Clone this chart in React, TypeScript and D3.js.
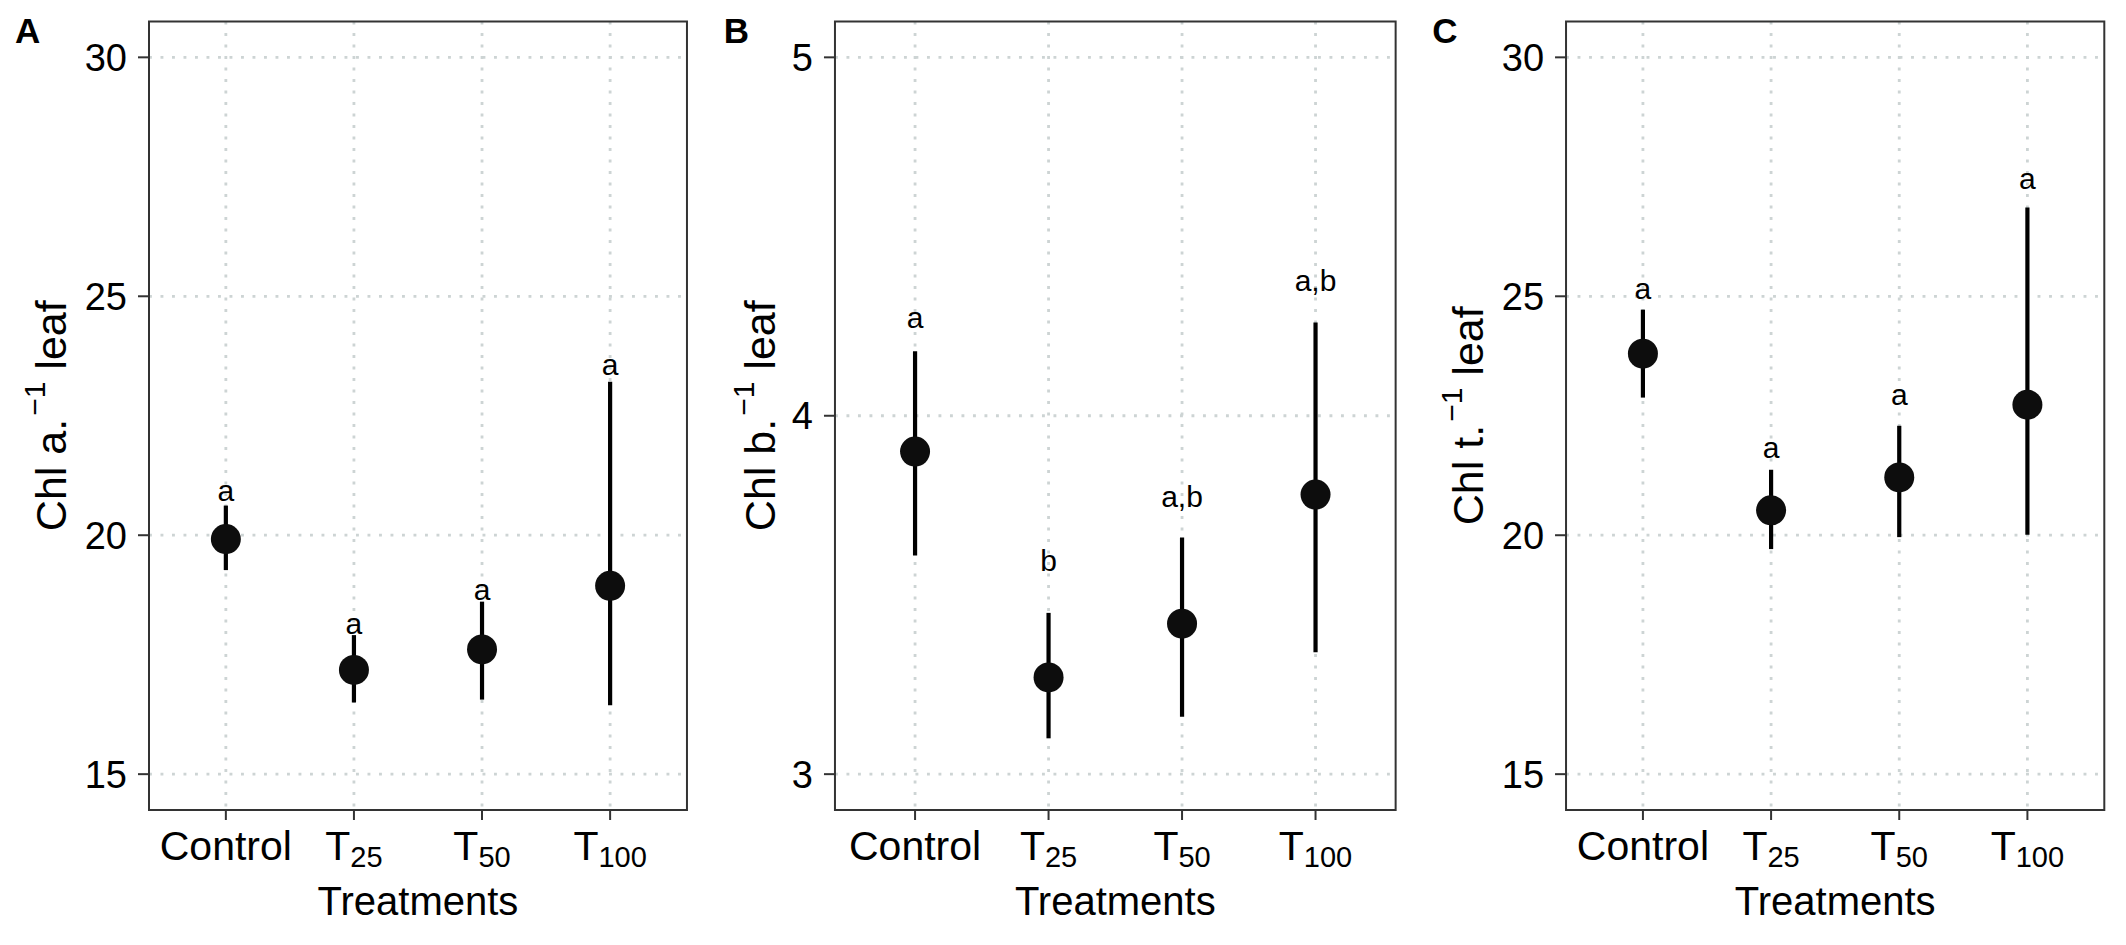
import { scaleLinear, scalePoint } from 'd3'

// treatments on the x axis (base + subscript)
const treatments = ['Control', 'T25', 'T50', 'T100']
const tickBase = ['Control', 'T', 'T', 'T']
const tickSub = ['', '25', '50', '100']

// panel A: Chl a
const chlAMean = [19.92, 17.18, 17.61, 18.94]
const chlALower = [19.27, 16.5, 16.56, 16.44]
const chlAUpper = [20.62, 17.91, 18.61, 23.21]
const chlALetters = ['a', 'a', 'a', 'a']
const chlALetterY = [20.72, 17.93, 18.64, 23.36]

// panel B: Chl b
const chlBMean = [3.9, 3.27, 3.42, 3.78]
const chlBLower = [3.61, 3.1, 3.16, 3.34]
const chlBUpper = [4.18, 3.45, 3.66, 4.26]
const chlBLetters = ['a', 'b', 'a,b', 'a,b']
const chlBLetterY = [4.246, 3.566, 3.745, 4.347]

// panel C: Chl t
const chlTMean = [23.8, 20.52, 21.21, 22.73]
const chlTLower = [22.88, 19.71, 19.96, 20.01]
const chlTUpper = [24.72, 21.37, 22.29, 26.86]
const chlTLetters = ['a', 'a', 'a', 'a']
const chlTLetterY = [24.94, 21.62, 22.73, 27.24]

const ticks15to30 = [15, 20, 25, 30]
const ticks3to5 = [3, 4, 5]

const panels = [
	{ tag: 'A', name: 'Chl a.', mean: chlAMean, lower: chlALower, upper: chlAUpper, letters: chlALetters, letterY: chlALetterY, domain: [14.25, 30.75], ticks: ticks15to30, axisSpace: 149 },
	{ tag: 'B', name: 'Chl b.', mean: chlBMean, lower: chlBLower, upper: chlBUpper, letters: chlBLetters, letterY: chlBLetterY, domain: [2.9, 5.1], ticks: ticks3to5, axisSpace: 126.3 },
	{ tag: 'C', name: 'Chl t.', mean: chlTMean, lower: chlTLower, upper: chlTUpper, letters: chlTLetters, letterY: chlTLetterY, domain: [14.25, 30.75], ticks: ticks15to30, axisSpace: 148.7 },
]

const W = 2126
const H = 945
const FONT = '"Liberation Sans", Arial, Helvetica, sans-serif'
const GRID = '#cdd4d4'
const AXIS = '#333333'

function Panel({ p, index }: { p: (typeof panels)[number]; index: number }) {
	const panelW = W / panels.length
	const x0 = index * panelW
	const left = x0 + p.axisSpace
	const right = x0 + panelW - 21.7
	const top = 21.5
	const bottom = 810

	const x = scalePoint<string>().domain(treatments).range([left, right]).padding(0.6)
	const y = scaleLinear().domain(p.domain).range([bottom, top])
	const midY = (top + bottom) / 2

	return (
		<g>
			<text x={x0 + 15} y={43} fontSize={35} fontWeight="bold" fill="#000">
				{p.tag}
			</text>

			{/* grid */}
			{p.ticks.map((t) => (
				<line key={`h${t}`} x1={left} x2={right} y1={y(t)} y2={y(t)} stroke={GRID} strokeWidth={2.8} strokeDasharray="2.9 8.6" />
			))}
			{treatments.map((t) => (
				<line key={`v${t}`} x1={x(t)} x2={x(t)} y1={top} y2={bottom} stroke={GRID} strokeWidth={2.8} strokeDasharray="2.9 8.6" />
			))}

			{/* error bars + points */}
			{treatments.map((t, i) => (
				<g key={t}>
					<line x1={x(t)} x2={x(t)} y1={y(p.lower[i])} y2={y(p.upper[i])} stroke="#000" strokeWidth={4.2} />
					<circle cx={x(t)} cy={y(p.mean[i])} r={15} fill="#0d0d0d" />
					<text x={x(t)} y={y(p.letterY[i])} textAnchor="middle" fontSize={30} fill="#000">
						{p.letters[i]}
					</text>
				</g>
			))}

			<rect x={left} y={top} width={right - left} height={bottom - top} fill="none" stroke={AXIS} strokeWidth={2} />

			{/* y axis */}
			{p.ticks.map((t) => (
				<g key={`yt${t}`}>
					<line x1={left - 11} x2={left} y1={y(t)} y2={y(t)} stroke={AXIS} strokeWidth={2} />
					<text x={left - 22} y={y(t)} dy="0.36em" textAnchor="end" fontSize={38} fill="#000">
						{t}
					</text>
				</g>
			))}
			<text transform={`translate(${x0 + 66}, ${midY}) rotate(-90)`} textAnchor="middle" fontSize={43} fill="#000">
				{p.name}
				<tspan dy={-21} dx={3} fontSize={30}>
					−1
				</tspan>
				<tspan dy={21} fontSize={43}>
					{' leaf'}
				</tspan>
			</text>

			{/* x axis */}
			{treatments.map((t, i) => (
				<g key={`xt${t}`}>
					<line x1={x(t)} x2={x(t)} y1={bottom} y2={bottom + 10} stroke={AXIS} strokeWidth={2} />
					<text x={x(t)} y={860} textAnchor="middle" fontSize={41} fill="#000">
						{tickBase[i]}
						{tickSub[i] && (
							<tspan dy={7} fontSize={29}>
								{tickSub[i]}
							</tspan>
						)}
					</text>
				</g>
			))}
			<text x={(left + right) / 2} y={915} textAnchor="middle" fontSize={40} fill="#000">
				Treatments
			</text>
		</g>
	)
}

export default function App() {
	return (
		<div style={{ position: 'absolute', left: 0, top: 0 }}>
			<svg width={W} height={H} viewBox={`0 0 ${W} ${H}`} fontFamily={FONT} style={{ display: 'block', background: '#fff' }}>
				<rect width={W} height={H} fill="#fff" />
				{panels.map((p, i) => (
					<Panel key={p.tag} p={p} index={i} />
				))}
			</svg>
		</div>
	)
}
